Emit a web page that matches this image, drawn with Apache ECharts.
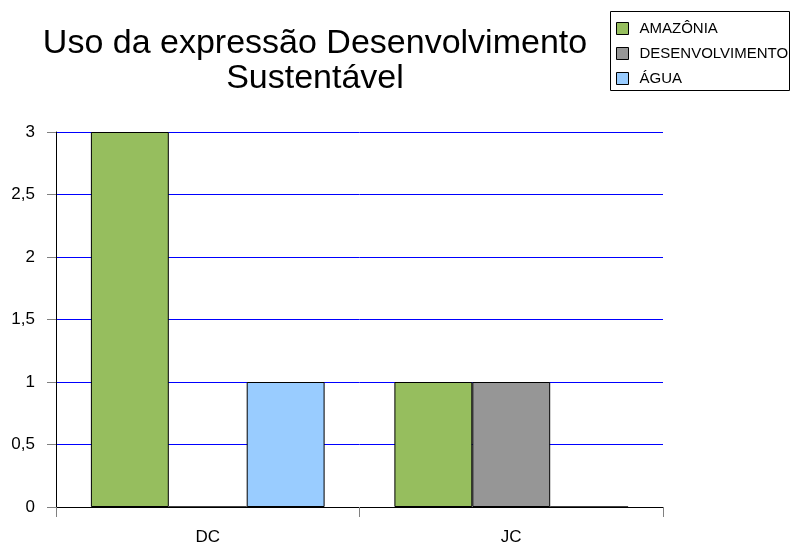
<!DOCTYPE html>
<html><head><meta charset="utf-8">
<script src="https://cdn.jsdelivr.net/npm/echarts@6/dist/echarts.min.js"></script>
<style>html,body{margin:0;padding:0;background:#fff}#c{width:790px;height:546px}</style>
</head><body><div id="c"></div>
<script>
const categories = ['DC', 'JC'];
const seriesNames = ['AMAZÔNIA', 'DESENVOLVIMENTO', 'ÁGUA'];
const amazonia = [3, 1];
const desenvolvimento = [0, 1];
const agua = [1, 0];
const yTicks = ['0', '0,5', '1', '1,5', '2', '2,5', '3'];
const colors = ['#96BE5E', '#969696', '#99CCFF'];

const chart = echarts.init(document.getElementById('c'));
const font = 'Liberation Sans, Arial, sans-serif';
const mk = (name, data, color) => ({
  name, type: 'bar', data, barGap: '0%', barCategoryGap: '23%',
  itemStyle: { color, borderColor: '#000', borderWidth: 1 },
  emphasis: { disabled: true }
});
chart.setOption({
  animation: false,
  title: {
    text: 'Uso da expressão Desenvolvimento\nSustentável',
    left: 310, top: 21, textAlign: 'center',
    textStyle: { fontFamily: font, fontSize: 34, fontWeight: 'normal', color: '#000', lineHeight: 35 }
  },
  graphic: [{
    type: 'rect', left: 610, top: 11, z: 0,
    shape: { width: 179, height: 79 },
    style: { fill: '#fff', stroke: '#000', lineWidth: 1 }
  }],
  legend: {
    orient: 'vertical', left: 616, top: 21,
    icon: 'rect',
    itemWidth: 12, itemHeight: 12, itemGap: 10,
    padding: 0, z: 5,
    textStyle: { fontFamily: font, fontSize: 15, lineHeight: 15, color: '#000',
      padding: [0, 0, 0, 6], width: 150, overflow: 'truncate', ellipsis: '' },
    itemStyle: { borderColor: '#000', borderWidth: 1 },
    data: seriesNames, selectedMode: false
  },
  grid: { left: 56, right: 127, top: 132, bottom: 38, containLabel: false },
  xAxis: {
    type: 'category', data: categories,
    axisLine: { lineStyle: { color: '#000' } },
    axisTick: { show: true, length: 10, lineStyle: { color: '#808080' } },
    axisLabel: { fontFamily: font, fontSize: 17, color: '#000', margin: 22 }
  },
  yAxis: {
    type: 'value', min: 0, max: 3, interval: 0.5,
    axisLine: { show: true, lineStyle: { color: '#000' } },
    axisTick: { show: true, length: 9, lineStyle: { color: '#808080' } },
    axisLabel: { fontFamily: font, fontSize: 17, color: '#000', margin: 21,
      formatter: (v) => yTicks[Math.round(v * 2)] },
    splitLine: { lineStyle: { color: '#0000FF', width: 1 } }
  },
  series: [
    mk(seriesNames[0], amazonia, colors[0]),
    mk(seriesNames[1], desenvolvimento, colors[1]),
    mk(seriesNames[2], agua, colors[2])
  ]
});
</script></body></html>
